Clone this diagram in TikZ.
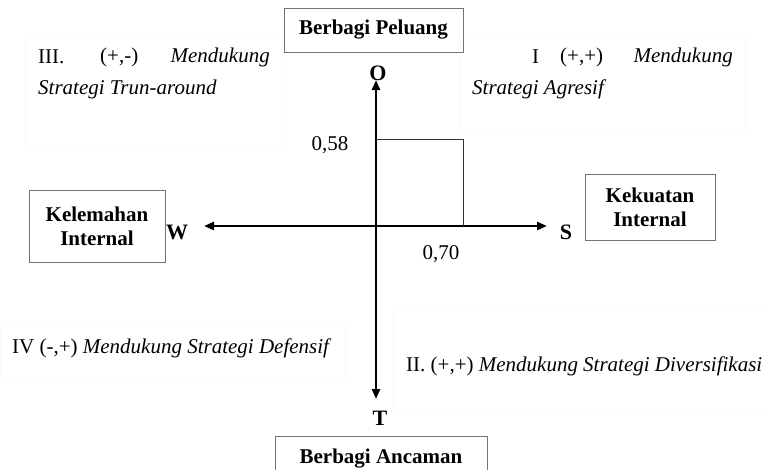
\documentclass[tikz,border=0pt]{standalone}
\usepackage{fontspec}
\setmainfont{Liberation Serif}
\usetikzlibrary{arrows.meta}
\begin{document}
\begin{tikzpicture}[x=1pt,y=-1pt,
  lbl/.style={font=\fontsize{21}{24}\selectfont, inner sep=0pt},
  boxlbl/.style={draw=black!55, line width=0.8pt, font=\fontsize{21}{24}\selectfont\bfseries, align=center, inner sep=0pt},
  quad/.style={draw=black!2, line width=0.5pt},
  axis/.style={line width=2.6pt, -{Triangle[length=10pt,width=8pt]}},
  letter/.style={font=\fontsize{22}{24}\selectfont\bfseries, inner sep=0pt}]
\useasboundingbox (0,0) rectangle (762,469);
% faint quadrant frames
\draw[quad] (25,36) rectangle (282,148);
\draw[quad] (460,36) rectangle (745,132);
\draw[quad] (0,327) rectangle (345,378);
\draw[quad] (393,311) rectangle (762,410);
% boxes
\node[boxlbl, minimum width=179pt, minimum height=44pt] (peluang) at (373.5,30) {Berbagi Peluang};
\node[boxlbl, minimum width=212pt, minimum height=44pt, anchor=north] (ancaman) at (381,436) {Berbagi Ancaman};
\node[boxlbl, minimum width=136pt, minimum height=72pt] (lemah) at (97,226) {Kelemahan\\Internal};
\node[boxlbl, minimum width=130pt, minimum height=66pt] (kuat) at (650,207) {Kekuatan\\Internal};
% axes
\coordinate (c) at (376,226);
\coordinate (otip) at (376,80);
\coordinate (ttip) at (376,399);
\coordinate (wtip) at (204,226);
\coordinate (stip) at (547,226);
\draw[axis] (c) -- (otip);
\draw[axis] (c) -- (ttip);
\draw[axis] (c) -- (wtip);
\draw[axis] (c) -- (stip);
\node[letter] (O) at (378,73) {O};
\node[letter] (T) at (380,418) {T};
\node[letter] (W) at (177,232) {W};
\node[letter] (S) at (566,232) {S};
% point rectangle
\coordinate (p) at (463,139);
\draw[line width=1pt, black!80] (c |- p) -- (p) -- (p |- c);
\node[lbl] (v58) at (330,145) {0,58};
\node[lbl] (v70) at (441,254) {0,70};
% quadrant texts
\node[lbl, anchor=west] (q3a) at (38,57) {III.};
\node[lbl, anchor=west] (q3b) at (100,57) {(+,-)};
\node[lbl, anchor=east] (q3c) at (270,57) {\itshape Mendukung};
\node[lbl, anchor=west] (q3d) at (38,89) {\itshape Strategi Trun-around};
\node[lbl, anchor=west] (q1a) at (532,57) {I};
\node[lbl, anchor=west] (q1b) at (560,57) {(+,+)};
\node[lbl, anchor=east] (q1c) at (733,57) {\itshape Mendukung};
\node[lbl, anchor=west] (q1d) at (472,89) {\itshape Strategi Agresif};
\node[lbl, anchor=west] (q4) at (12,348) {IV (-,+) \itshape Mendukung Strategi Defensif};
\node[lbl, anchor=west] (q2) at (406,366) {II. (+,+) \itshape Mendukung Strategi Diversifikasi};
\end{tikzpicture}
\end{document}
